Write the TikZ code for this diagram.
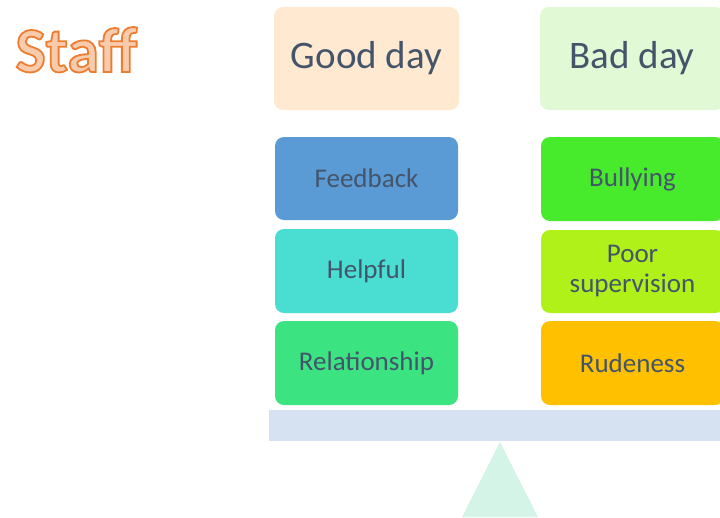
\documentclass[tikz,border=0pt]{standalone}
\usepackage{fontspec}
\setmainfont{Carlito}
\definecolor{txt}{HTML}{44546A}
\definecolor{goodbg}{HTML}{FFE9D1}
\definecolor{badbg}{HTML}{E2F9D5}
\definecolor{cFeedback}{HTML}{5B9BD5}
\definecolor{cHelpful}{HTML}{4ADDD1}
\definecolor{cRelation}{HTML}{3BE480}
\definecolor{cBully}{HTML}{48EB2C}
\definecolor{cPoor}{HTML}{B1F11A}
\definecolor{cRude}{HTML}{FFC000}
\definecolor{beamc}{HTML}{D6E2F1}
\definecolor{pivotc}{HTML}{D4F4E7}
\definecolor{staffin}{HTML}{F8CBAD}
% outlined text: fill in the current colour, stroke in orange
\newcommand\outlinedtext[1]{%
  \special{pdf:code q 2 Tr 1.8 w 0.929 0.490 0.192 RG}#1\special{pdf:code Q}}
\begin{document}
\begin{tikzpicture}[x=1pt,y=-1pt,
  head/.style={rectangle,rounded corners=9pt,minimum width=185pt,minimum height=103pt,
    text=txt,font=\fontsize{39}{44}\selectfont,inner sep=0pt},
  item/.style={rectangle,rounded corners=9pt,minimum width=183pt,minimum height=83pt,
    text=txt,font=\fontsize{27}{30}\selectfont,align=center,inner sep=0pt}]
\useasboundingbox (0,0) rectangle (720,517);
\clip (0,0) rectangle (720,517);

% title
\node (staff) [anchor=base west,text=staffin,font=\fontsize{64}{70}\selectfont\bfseries]
  at (12,72) {\outlinedtext{Staff}};

% column headers
\node (good) [head,fill=goodbg] at (366.5,58.5) {Good day};
\node (bad)  [head,fill=badbg,minimum width=184pt] at (632,58.5) {Bad day};

% left pan
\node (feedback) [item,fill=cFeedback] at (366.5,178.5) {Feedback};
\node (helpful)  [item,fill=cHelpful,minimum height=84pt] at (366.5,271) {Helpful};
\node (relation) [item,fill=cRelation,minimum height=84pt] at (366.5,363) {Relationship};

% right pan
\node (bully) [item,fill=cBully,minimum height=84pt] at (632.5,179) {Bullying};
\node (poor)  [item,fill=cPoor] at (632.5,271.5) {Poor\\supervision};
\node (rude)  [item,fill=cRude,minimum height=84pt] at (632.5,363) {Rudeness};

% balance beam and pivot
\node (beam) [rectangle,fill=beamc,minimum width=456pt,minimum height=31pt,inner sep=0pt]
  at (497,425.5) {};
\fill[pivotc] (500,442) -- (538,517) -- (462,517) -- cycle;
\end{tikzpicture}
\end{document}
